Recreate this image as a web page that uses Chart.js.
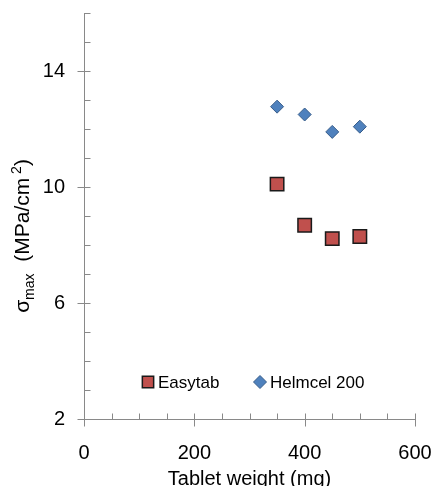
<!DOCTYPE html>
<html>
<head>
<meta charset="utf-8">
<script src="https://cdn.jsdelivr.net/npm/chart.js@4"></script>
<style>
    html, body { margin: 0; padding: 0; background: #fff; }
    #wrap { width: 434px; height: 486px; }
</style>
</head>
<body>
<div id="wrap"><canvas id="chart"></canvas></div>
<script>
// Data
const weights = [350, 400, 450, 500];
const easytab = [10.1, 8.68, 8.22, 8.29];
const helmcel = [12.77, 12.5, 11.9, 12.08];
const seriesNames = ['Easytab', 'Helmcel 200'];
const xTickLabels = [0, 200, 400, 600];
const yTickLabels = [2, 6, 10, 14];
const xMinorStep = 50;
const yMinorStep = 1;

const AXIS = '#898989';
const FONT = "'Liberation Sans', Arial, sans-serif";

// Axis lines + Excel style tick marks (major cross, minor inside)
const axisMarks = {
    id: 'axisMarks',
    afterDraw(chart) {
        const { ctx, chartArea: a, scales: { x, y } } = chart;
        ctx.save();
        ctx.strokeStyle = AXIS;
        ctx.lineWidth = 1;
        ctx.beginPath();
        const bx = Math.round(a.left) + 0.5;
        const by = Math.round(a.bottom) + 0.5;
        ctx.moveTo(bx, Math.round(a.top));
        ctx.lineTo(bx, by);
        ctx.lineTo(Math.round(a.right) + 0.5, by);
        for (let v = x.min; v <= x.max; v += xMinorStep) {
            const px = Math.round(x.getPixelForValue(v)) + 0.5;
            const major = xTickLabels.includes(v);
            ctx.moveTo(px, by - 6);
            ctx.lineTo(px, by + (major ? 7 : 0));
        }
        for (let v = y.min; v <= y.max; v += yMinorStep) {
            const py = Math.round(y.getPixelForValue(v)) + 0.5;
            const major = yTickLabels.includes(v);
            ctx.moveTo(bx - (major ? 7 : 0), py);
            ctx.lineTo(bx + 6, py);
        }
        ctx.stroke();
        ctx.restore();
    }
};

// y title with sub/superscript
const yTitle = {
    id: 'yTitle',
    afterDraw(chart) {
        const ctx = chart.ctx;
        const parts = [
            { t: '\u03c3', size: 21, dy: 0 },
            { t: 'max', size: 14, dy: 5 },
            { t: '  (MPa/cm', size: 21, dy: 0 },
            { t: ' 2', size: 14, dy: -8 },
            { t: ')', size: 21, dy: 0 }
        ];
        ctx.save();
        ctx.fillStyle = '#000';
        ctx.textBaseline = 'alphabetic';
        let total = 0;
        parts.forEach(p => { ctx.font = p.size + 'px ' + FONT; p.w = ctx.measureText(p.t).width; total += p.w; });
        ctx.translate(29, 236);
        ctx.rotate(-Math.PI / 2);
        let cx = -total / 2;
        parts.forEach(p => {
            ctx.font = p.size + 'px ' + FONT;
            ctx.fillText(p.t, cx, p.dy);
            cx += p.w;
        });
        ctx.restore();
    }
};

// legend inside the plot area
const innerLegend = {
    id: 'innerLegend',
    afterDraw(chart) {
        const { ctx, chartArea: a } = chart;
        const ly = a.bottom - 37;
        const xs = [148, 260];
        ctx.save();
        ctx.font = '17px ' + FONT;
        ctx.textBaseline = 'middle';
        chart.data.datasets.forEach((ds, i) => {
            ctx.fillStyle = ds.backgroundColor;
            ctx.strokeStyle = ds.borderColor;
            ctx.lineWidth = ds.borderWidth;
            Chart.helpers.drawPoint(ctx, {
                pointStyle: ds.pointStyle,
                radius: ds.pointStyle === 'rect' ? 8 : 6.5,
                borderWidth: ds.borderWidth,
                rotation: 0
            }, xs[i], ly);
            ctx.fillStyle = '#000';
            ctx.fillText(ds.label, xs[i] + 10, ly + 1);
        });
        ctx.restore();
    }
};

new Chart(document.getElementById('chart'), {
    type: 'scatter',
    data: {
        datasets: [{
            label: seriesNames[0],
            data: weights.map((w, i) => ({ x: w, y: easytab[i] })),
            pointStyle: 'rect',
            pointRadius: 9.5,
            backgroundColor: '#C0504D',
            borderColor: '#1a1a1a',
            borderWidth: 1.5
        }, {
            label: seriesNames[1],
            data: weights.map((w, i) => ({ x: w, y: helmcel[i] })),
            pointStyle: 'rectRot',
            pointRadius: 6.5,
            backgroundColor: '#4F81BD',
            borderColor: '#385D8A',
            borderWidth: 1
        }]
    },
    options: {
        responsive: true,
        maintainAspectRatio: false,
        animation: false,
        layout: { padding: { left: 0, right: 19, top: 13, bottom: 0 } },
        plugins: {
            legend: { display: false },
            tooltip: { enabled: false }
        },
        scales: {
            x: {
                type: 'linear',
                min: 0,
                max: 600,
                afterBuildTicks: s => { s.ticks = xTickLabels.map(v => ({ value: v })); },
                afterFit: s => { s.height = 67; s.paddingLeft = 0; s.paddingRight = 0; },
                grid: { display: false, drawTicks: false },
                border: { display: false },
                ticks: { color: '#000', padding: 22, maxRotation: 0, font: { family: FONT, size: 20 } },
                title: {
                    display: true,
                    text: 'Tablet weight (mg)',
                    color: '#000',
                    padding: { top: 0, bottom: -5 },
                    font: { family: FONT, size: 20 }
                }
            },
            y: {
                type: 'linear',
                min: 2,
                max: 16,
                afterBuildTicks: s => { s.ticks = yTickLabels.map(v => ({ value: v })); },
                afterFit: s => { s.width = 84; s.paddingTop = 0; s.paddingBottom = 0; },
                grid: { display: false, drawTicks: false },
                border: { display: false },
                ticks: { color: '#000', padding: 19, font: { family: FONT, size: 20 } }
            }
        }
    },
    plugins: [axisMarks, yTitle, innerLegend]
});
</script>
</body>
</html>
